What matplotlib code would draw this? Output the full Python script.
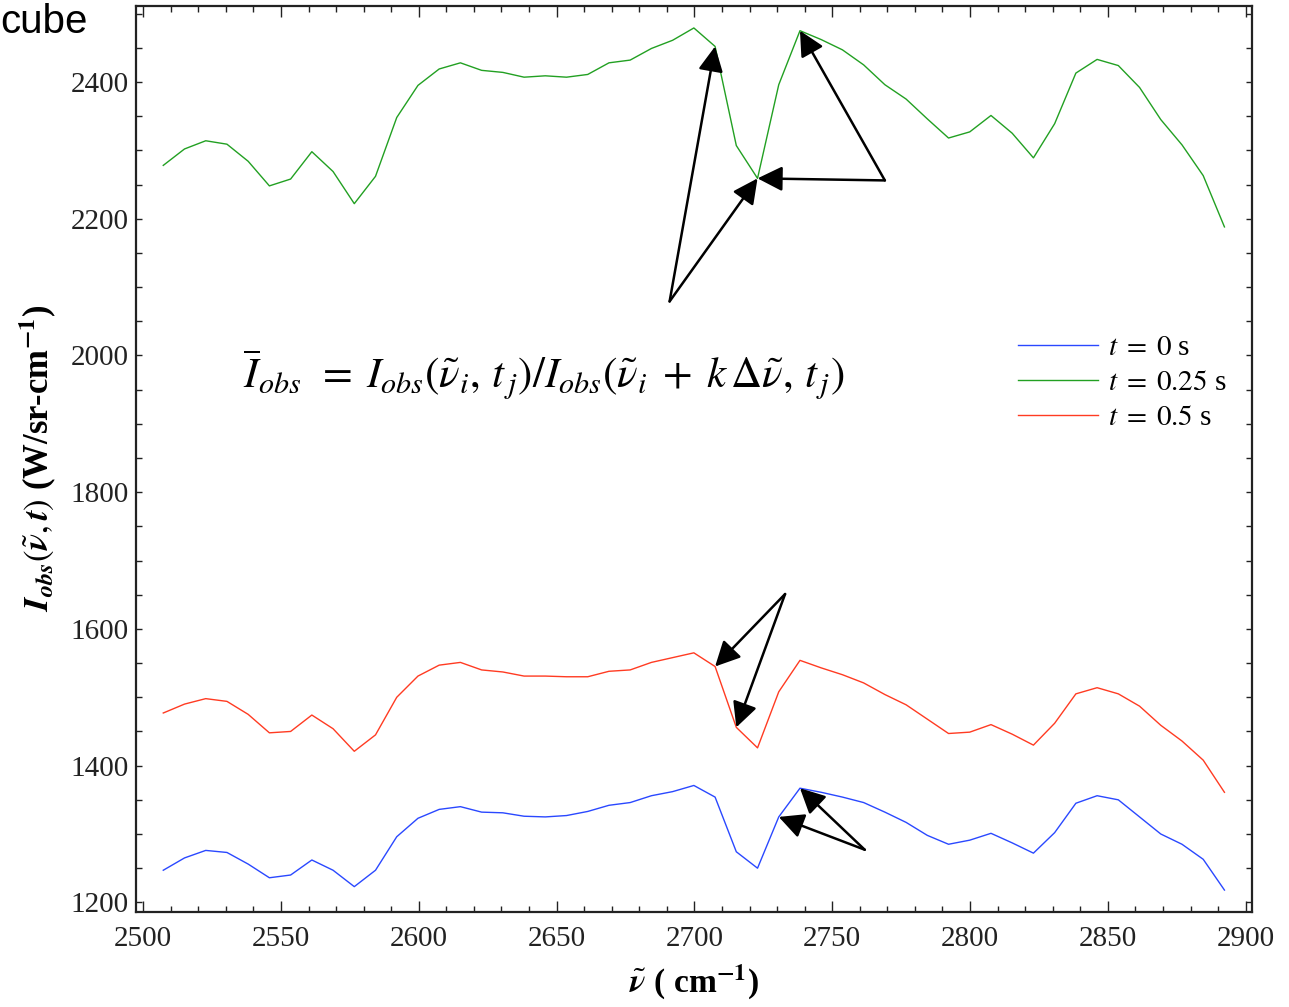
import numpy as np
import matplotlib
matplotlib.use("Agg")
import matplotlib.pyplot as plt

# wavenumber grid (cm^-1)
wn = [2507.3, 2515.0, 2522.7, 2530.4, 2538.1, 2545.8, 2553.5, 2561.2, 2568.9, 2576.6,
      2584.3, 2592.0, 2599.7, 2607.4, 2615.1, 2622.8, 2630.5, 2638.2, 2645.9, 2653.6,
      2661.3, 2669.0, 2676.7, 2684.4, 2692.1, 2699.8, 2707.5, 2715.2, 2722.9, 2730.6,
      2738.3, 2746.0, 2753.7, 2761.4, 2769.1, 2776.8, 2784.5, 2792.2, 2799.9, 2807.6,
      2815.3, 2823.0, 2830.7, 2838.4, 2846.1, 2853.8, 2861.5, 2869.2, 2876.9, 2884.6,
      2892.3]

I_t0 = [1247, 1265, 1276, 1273, 1256, 1236, 1240, 1262, 1247, 1223,
        1247, 1296, 1323, 1336, 1340, 1332, 1331, 1326, 1325, 1327,
        1333, 1342, 1346, 1356, 1362, 1371, 1354, 1274, 1250, 1325,
        1367, 1361, 1354, 1346, 1332, 1317, 1298, 1285, 1291, 1301,
        1287, 1272, 1302, 1345, 1356, 1350, 1325, 1300, 1285, 1263,
        1218]

I_t025 = [2278, 2302, 2314, 2309, 2284, 2248, 2258, 2298, 2269, 2222,
          2262, 2348, 2395, 2419, 2428, 2417, 2414, 2407, 2409, 2407,
          2411, 2428, 2432, 2449, 2461, 2479, 2452, 2307, 2259, 2396,
          2475, 2462, 2447, 2425, 2396, 2375, 2346, 2318, 2327, 2351,
          2325, 2289, 2339, 2413, 2433, 2424, 2392, 2345, 2308, 2263,
          2188]

I_t05 = [1477, 1490, 1498, 1494, 1475, 1448, 1450, 1474, 1454, 1421,
         1445, 1500, 1531, 1547, 1551, 1540, 1537, 1531, 1531, 1530,
         1530, 1538, 1540, 1551, 1558, 1565, 1545, 1456, 1426, 1508,
         1554, 1543, 1533, 1521, 1504, 1489, 1468, 1447, 1449, 1460,
         1446, 1430, 1462, 1505, 1514, 1505, 1487, 1459, 1436, 1408,
         1361]

labels = [r'$t\;=\;0$ s', r'$t\;=\;0.25$ s', r'$t\;=\;0.5$ s']
colors = ['#2a48ff', '#22a022', '#ff3b22']

# arrow tails and the curve points they point at
arrow_tails = [(2691.0, 2079), (2691.0, 2079), (2769.1, 2256), (2769.1, 2256),
               (2732.9, 1651), (2732.9, 1651), (2761.8, 1277), (2761.8, 1277)]
arrow_heads = [(I_t025, 26), (I_t025, 28), (I_t025, 28), (I_t025, 30),
               (I_t05, 26), (I_t05, 27), (I_t0, 29), (I_t0, 30)]

plt.rcParams['font.family'] = ['Liberation Serif', 'DejaVu Serif']
plt.rcParams['mathtext.fontset'] = 'stix'

fig = plt.figure(figsize=(12.89, 10.07), dpi=100)
ax = fig.add_axes([0.1055, 0.0946, 0.8658, 0.8997])

for y, c, lab in zip([I_t0, I_t025, I_t05], colors, labels):
    ax.plot(wn, y, color=c, lw=1.0, label=lab)

for (tx, ty), (ser, k) in zip(arrow_tails, arrow_heads):
    ax.annotate('', xy=(wn[k], ser[k]), xytext=(tx, ty),
                arrowprops=dict(arrowstyle='-|>', color='black', lw=1.8,
                                mutation_scale=38, shrinkA=0, shrinkB=0))

ax.text(0.096, 0.592,
        r'$\overline{I}_{obs}\;\, = \;I_{obs}(\tilde{\nu}_i,\, t_{\,j})/I_{obs}(\tilde{\nu}_i\; +\; k\,\Delta\tilde{\nu},\, t_{\,j})$',
        transform=ax.transAxes, fontsize=31, va='center', ha='left')

ax.set_xlim(2497.4, 2902.3)
ax.set_ylim(1186.3, 2511.5)
ax.set_xticks(np.arange(2500, 2901, 50))
ax.set_xticks(np.arange(2500, 2901, 10), minor=True)
ax.set_yticks(np.arange(1200, 2401, 200))
ax.set_yticks(np.arange(1200, 2501, 50), minor=True)
ax.tick_params(which='both', direction='in', top=True, right=True, labelsize=21, colors='#222222')
ax.tick_params(axis='x', which='major', length=8, width=1, pad=10)
ax.tick_params(axis='x', which='minor', length=4, width=1)
ax.tick_params(axis='y', which='both', length=4.5, width=1, pad=5)
for sp in ax.spines.values():
    sp.set_linewidth(1.6)
    sp.set_color('#222222')

ax.set_xlabel(r'$\tilde{\mathbfit{\nu}}$ ( cm$^{\mathbf{-1}}$)', fontsize=24, fontweight='bold', labelpad=8)
ax.set_ylabel(r'$\mathbfit{I}_{\mathbfit{obs}}(\tilde{\mathbfit{\nu}}, \mathbfit{t})$ (W/sr-cm$^{\mathbf{-1}}$)',
              fontsize=25, fontweight='bold', labelpad=9)

ax.legend(loc='upper left', bbox_to_anchor=(0.79, 0.637), frameon=False, fontsize=21,
          handlelength=2.75, handletextpad=0.35, labelspacing=0.3, borderpad=0, borderaxespad=0)

fig.text(0.0, 0.997, 'cube', family='Liberation Sans', fontsize=29, ha='left', va='top')

fig.savefig('out.png', dpi=100)
